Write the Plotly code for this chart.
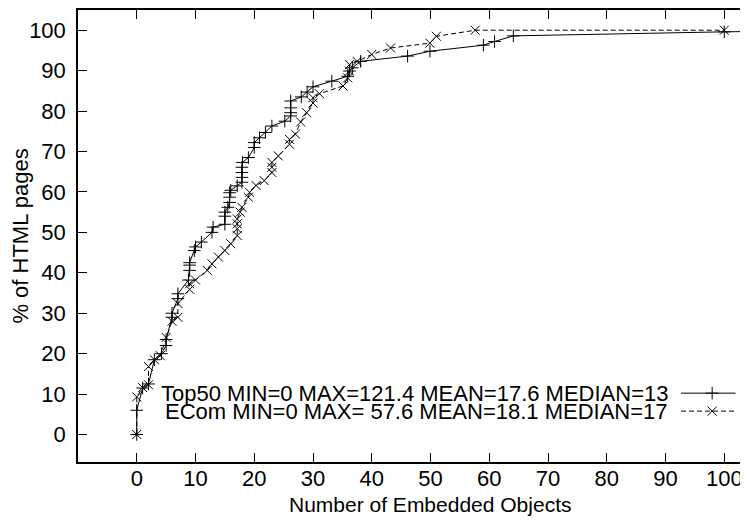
import plotly.graph_objects as go

# ---- data ----
top50_x = [0, 0, 1, 2, 3, 4.2, 5, 5, 6, 6, 7, 7, 8.8, 9, 9, 9, 9.8, 10, 11, 12.8, 13,
           15, 15, 15, 15.5, 15.8, 15.8, 15.8, 16, 17.1, 17.9, 17.9, 17.9, 17.9, 18, 19,
           20, 20, 20.9, 21.9, 23, 25.2, 26.2, 26.2, 26.2, 26.2, 28, 29, 30, 33.2, 35.9,
           36.2, 36.7, 38.1, 46.1, 49.9, 59, 60.9, 64.1, 100, 121.4]
top50_y = [0, 6, 11.5, 12.5, 18.5, 20, 22, 23.5, 29, 30, 33.6, 34.8, 38.2, 40.6, 41.9,
           42.5, 45.5, 46.4, 47.6, 50, 51.3, 52, 54, 55, 56.2, 57.4, 58.7, 59.8, 60.4,
           61.5, 62.4, 63.6, 64.8, 66.1, 67.3, 68.5, 71, 72.2, 73.4, 74.7, 76.3, 77.5,
           78.8, 79.6, 80.8, 82.5, 83.5, 84.7, 86, 87.4, 88.6, 89.9, 90.7, 92.3, 93.6,
           94.8, 96.3, 97.2, 98.6, 99.6, 100]

ecom_x = [0, 0, 1, 2, 2, 3, 4, 5, 6, 7, 7, 9, 9, 10, 12, 12.8, 13.9, 15, 16, 17.1, 17.1,
          17.1, 17.1, 17.6, 17.9, 19, 19.2, 20.3, 21.7, 23, 23, 23, 24.1, 26, 26, 27,
          27.9, 28.9, 30, 30, 31.1, 35.1, 35.9, 36.2, 36.2, 37.5, 40, 43.2, 49.9, 51,
          57.6, 100]
ecom_y = [0, 9.3, 11.6, 12.3, 16.8, 18.5, 19.5, 24, 28, 29, 32.4, 35.9, 37.3, 38.2,
          40.6, 42.2, 43.9, 45.5, 47.2, 49.2, 50.9, 52.1, 53.3, 55, 56.2, 58.7, 59.9,
          61.6, 62.8, 64.8, 66.1, 67.3, 68.9, 71.8, 73, 74.3, 77.3, 79.6, 82, 83.3,
          84.3, 86.2, 88.2, 89.9, 91.5, 92.3, 94, 95.6, 96.8, 98.5, 100, 100]

series_names = ["Top50 MIN=0 MAX=121.4 MEAN=17.6 MEDIAN=13",
                "ECom MIN=0 MAX= 57.6 MEAN=18.1 MEDIAN=17"]
x_title = "Number of Embedded Objects"
y_title = "% of HTML pages"
x_ticks = list(range(0, 101, 10))
y_ticks = list(range(0, 101, 10))

FONT = "Liberation Sans, Arial, Helvetica, sans-serif"
FS = 22
W, H = 748, 521
L, R, T, B = 52, 0, 1, 67

fig = go.Figure()
fig.add_trace(go.Scatter(x=top50_x, y=top50_y, mode="lines+markers",
                         line=dict(color="black", width=1),
                         marker=dict(symbol="cross-thin-open", size=9, color="black",
                                     line=dict(color="black", width=1)),
                         showlegend=False))
fig.add_trace(go.Scatter(x=ecom_x, y=ecom_y, mode="lines+markers",
                         line=dict(color="black", width=1, dash="5px,3px"),
                         marker=dict(symbol="x-thin-open", size=9, color="black",
                                     line=dict(color="black", width=1)),
                         showlegend=False))

# legend samples on a pixel-coordinate overlay axis
leg_rows = [385, 403]
styles = [("solid", "cross-thin-open"), ("5px,3px", "x-thin-open")]
for name, yrow, (dash, sym) in zip(series_names, leg_rows, styles):
    fig.add_trace(go.Scatter(x=[671, 727], y=[yrow, yrow], mode="lines",
                             line=dict(color="black", width=1, dash=dash),
                             xaxis="x2", yaxis="y2", showlegend=False,
                             hoverinfo="skip"))
    fig.add_trace(go.Scatter(x=[703], y=[yrow], mode="markers",
                             marker=dict(symbol=sym, size=9, color="black",
                                         line=dict(color="black", width=1)),
                             xaxis="x2", yaxis="y2", showlegend=False,
                             hoverinfo="skip"))
    fig.add_annotation(x=660, y=yrow, xref="x2", yref="y2", text=name,
                       showarrow=False, xanchor="right", yanchor="middle",
                       font=dict(family=FONT, size=FS, color="black"))

# x-axis title (placed in pixel space)
plot_h = H - T - B
fig.add_annotation(x=413, y=-(497 - (H - B)) / plot_h, xref="x2", yref="paper",
                   text=x_title, showarrow=False, xanchor="center",
                   yanchor="middle", font=dict(family=FONT, size=21, color="black"))

axis_common = dict(ticks="inside", ticklen=9, tickwidth=1, tickcolor="black",
                   showline=True, linecolor="black", linewidth=1.5,
                   showgrid=False, zeroline=False,
                   tickfont=dict(family=FONT, size=FS, color="black"))

fig.update_layout(
    width=W, height=H,
    margin=dict(l=L, r=R, t=T, b=B),
    paper_bgcolor="white", plot_bgcolor="white",
    xaxis=dict(range=[-10, 105.4], tickvals=x_ticks, mirror="ticks",
               ticklabelstandoff=-4, **axis_common),
    yaxis=dict(range=[-6.8, 105], tickvals=y_ticks, mirror=False,
               ticklabelstandoff=6,
               title=dict(text=y_title, standoff=6,
                          font=dict(family=FONT, size=FS, color="black")),
               **axis_common),
    xaxis2=dict(overlaying="x", range=[L, W - R], visible=False),
    yaxis2=dict(overlaying="y", range=[H - B, T], visible=False),
    showlegend=False,
)

fig.write_html("out.html")
